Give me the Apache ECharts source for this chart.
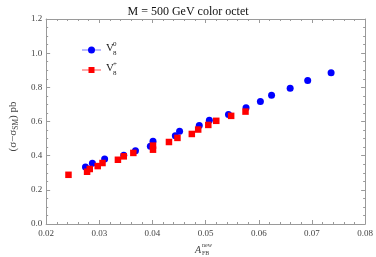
<!DOCTYPE html>
<html><head><meta charset="utf-8">
<script src="https://cdn.jsdelivr.net/npm/echarts@6/dist/echarts.min.js"></script>
<style>html,body{margin:0;padding:0;background:#fff}#c{width:376px;height:257px}</style>
</head><body><div id="c"></div>
<script>
var titleText = 'M = 500 GeV color octet';
var xTicks = [0.02, 0.08, 0.01];
var yTicks = [0.0, 1.2, 0.2];
var v80X = [0.0274,0.0287,0.0310,0.0346,0.0368,0.0396,0.0401,0.0443,0.0451,0.0488,0.0507,0.0543,0.0576,0.0603,0.0624,0.0659,0.0692,0.0736];
var v80Y = [0.333,0.355,0.380,0.402,0.429,0.455,0.484,0.516,0.543,0.576,0.607,0.641,0.680,0.717,0.754,0.795,0.840,0.886];
var v8pX = [0.0242,0.0277,0.0282,0.0297,0.0306,0.0335,0.0346,0.0364,0.0401,0.0401,0.0431,0.0447,0.0474,0.0486,0.0505,0.0520,0.0548,0.0575];
var v8pY = [0.288,0.306,0.322,0.339,0.357,0.376,0.396,0.416,0.435,0.459,0.480,0.504,0.527,0.553,0.580,0.604,0.633,0.658];

function pairs(xs, ys){ return xs.map(function(x,i){return [x, ys[i]];}); }
var serif = '"Liberation Serif","DejaVu Serif",serif';
var axisCol = '#9a9a9a';
var labCol = '#444';

function xAx(pos, show){
  return {type:'value', position:pos, min:xTicks[0], max:xTicks[1], interval:xTicks[2],
    axisLine:{show:true, onZero:false, lineStyle:{color:axisCol, width:1}},
    axisTick:{show:true, inside:true, length:4, lineStyle:{color:axisCol}},
    minorTick:{show:true, splitNumber:5, length:2, lineStyle:{color:axisCol}},
    splitLine:{show:false},
    axisLabel:{show:show, color:labCol, fontFamily:serif, fontSize:9, margin:5,
      formatter:function(v){return v.toFixed(2);}}
  };
}
function yAx(pos, show){
  return {type:'value', position:pos, min:yTicks[0], max:yTicks[1], interval:yTicks[2],
    axisLine:{show:true, onZero:false, lineStyle:{color:axisCol, width:1}},
    axisTick:{show:true, inside:true, length:4, lineStyle:{color:axisCol}},
    minorTick:{show:true, splitNumber:4, length:2, lineStyle:{color:axisCol}},
    splitLine:{show:false},
    axisLabel:{show:show, color:labCol, fontFamily:serif, fontSize:9, margin:4,
      formatter:function(v){return v.toFixed(1);}}
  };
}
var chart = echarts.init(document.getElementById('c'), null, {renderer:'canvas'});
var ya = yAx('left', true);
ya.name = '{p|(σ−σ}{s|SM}{p|) pb}';
ya.nameLocation = 'middle';
ya.nameGap = 21;
ya.nameRotate = 90;
ya.nameTextStyle = {padding:[0,10,0,0], rich:{p:{fontFamily:serif, fontSize:11, color:labCol}, s:{fontFamily:serif, fontSize:7.5, color:labCol, verticalAlign:'bottom', padding:[5,0,0,0]}}};
chart.setOption({
  animation:false,
  backgroundColor:'#fff',
  title:{text:titleText, left:'center', top:1, textStyle:{fontFamily:serif, fontSize:12, fontWeight:'normal', color:'#111'}},
  grid:{left:35, right:9, top:19, bottom:33},
  xAxis:[xAx('bottom', true), xAx('top', false)],
  yAxis:[ya, yAx('right', false)],
  series:[
    {name:'V80', type:'scatter', data:pairs(v80X, v80Y), symbol:'circle', symbolSize:7,
      itemStyle:{color:'#0000ff', opacity:1}, z:3},
    {name:'V8p', type:'scatter', data:pairs(v8pX, v8pY), symbol:'rect', symbolSize:6.5,
      itemStyle:{color:'#ff0000', opacity:1}, z:4}
  ],
  graphic:[
    {type:'line', shape:{x1:82, y1:50, x2:101, y2:50}, style:{stroke:'#8a8aff', lineWidth:1.2}},
    {type:'circle', shape:{cx:91.5, cy:50, r:3.5}, style:{fill:'#0000ff'}},
    {type:'text', left:106, top:43, style:{text:'V', font:'11px "Liberation Serif",serif', fill:'#222'}},
    {type:'text', left:113, top:41, style:{text:'0', font:'7px "Liberation Serif",serif', fill:'#222'}},
    {type:'text', left:113, top:50, style:{text:'8', font:'7px "Liberation Serif",serif', fill:'#222'}},
    {type:'line', shape:{x1:82, y1:70, x2:101, y2:70}, style:{stroke:'#ff6a6a', lineWidth:1.2}},
    {type:'rect', shape:{x:88.5, y:67, width:6, height:6}, style:{fill:'#ff0000'}},
    {type:'text', left:106, top:63, style:{text:'V', font:'11px "Liberation Serif",serif', fill:'#222'}},
    {type:'text', left:113, top:61, style:{text:'+', font:'7px "Liberation Serif",serif', fill:'#222'}},
    {type:'text', left:113, top:70, style:{text:'8', font:'7px "Liberation Serif",serif', fill:'#222'}},
    {type:'text', left:195, top:245, style:{text:'A', font:'italic 10px "Liberation Serif",serif', fill:labCol}},
    {type:'text', left:202, top:242, style:{text:'new', font:'6px "Liberation Serif",serif', fill:labCol}},
    {type:'text', left:202, top:250, style:{text:'FB', font:'6px "Liberation Serif",serif', fill:labCol}}
  ]
});
</script></body></html>
